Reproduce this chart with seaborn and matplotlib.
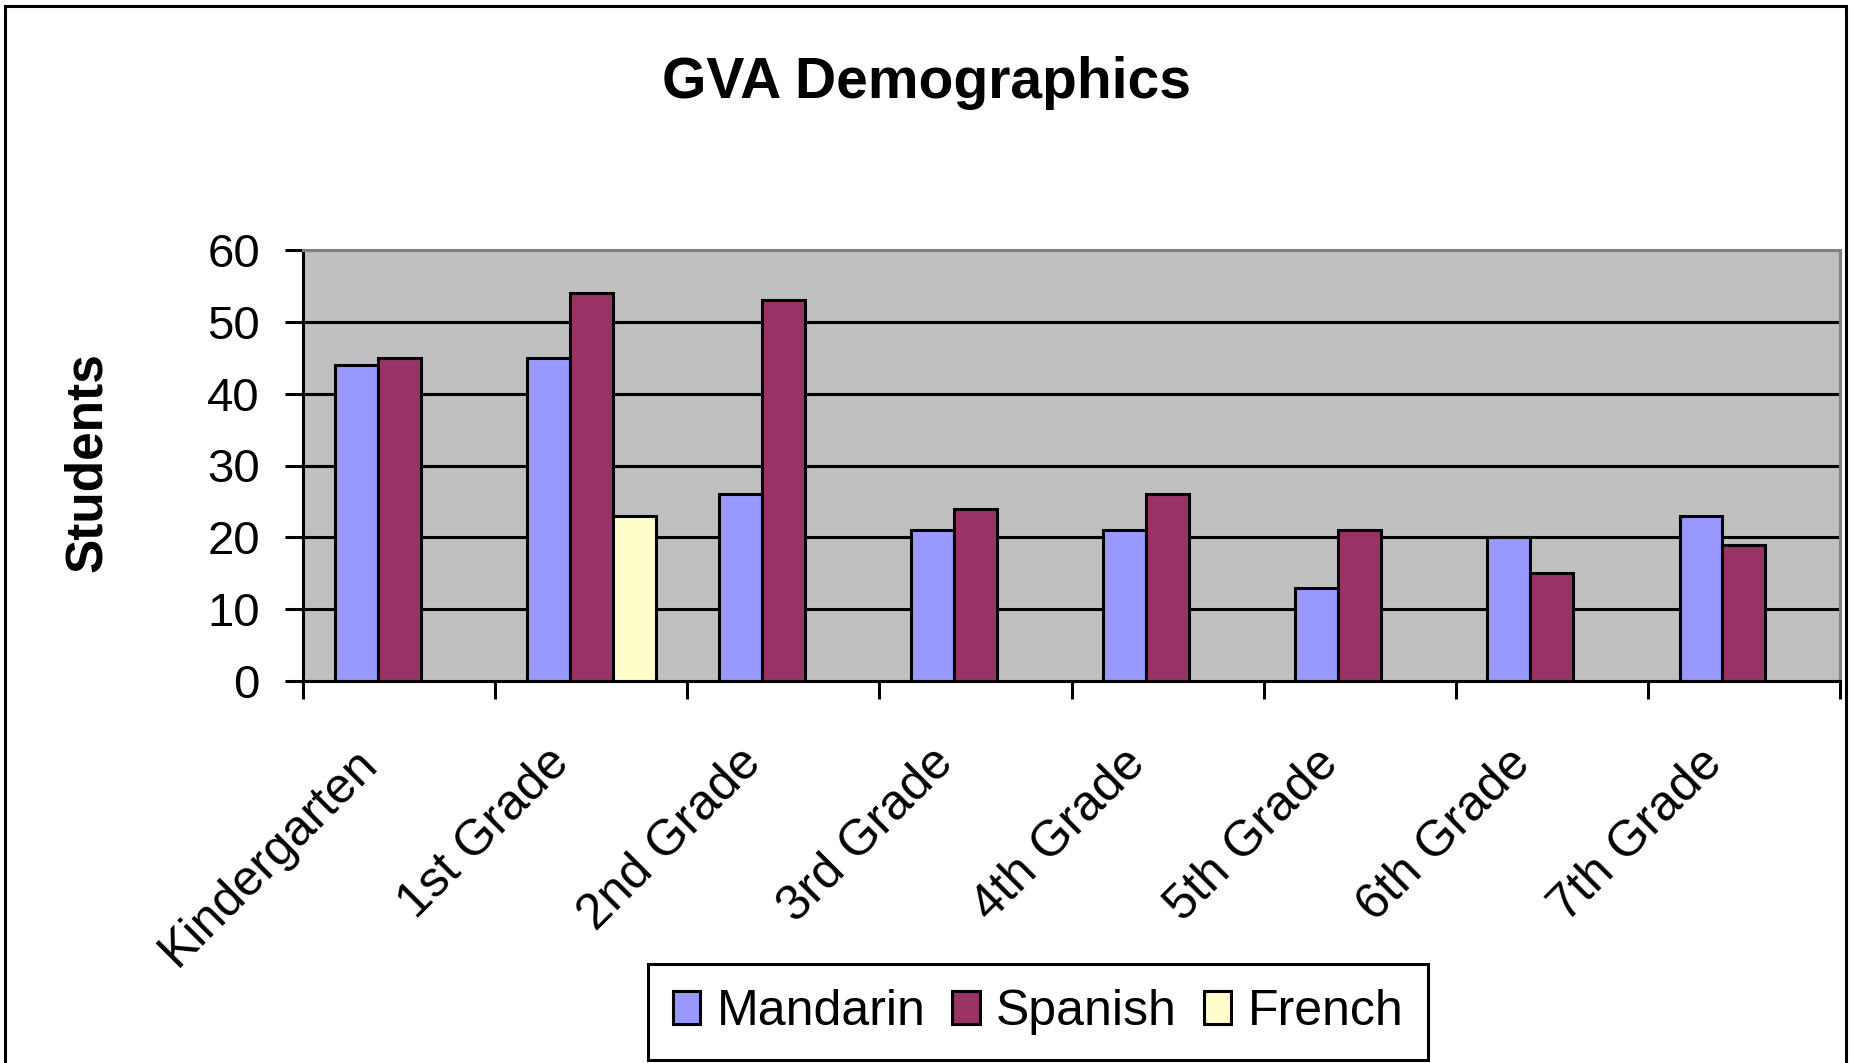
import numpy as np
import pandas as pd
import matplotlib
matplotlib.use("Agg")
import matplotlib.pyplot as plt
import matplotlib.patches as mpatches
import matplotlib.transforms as mtransforms
from matplotlib.ticker import FixedLocator
import seaborn as sns

grades = ["Kindergarten", "1st Grade", "2nd Grade", "3rd Grade",
          "4th Grade", "5th Grade", "6th Grade", "7th Grade"]
mandarin = [44, 45, 26, 21, 21, 13, 20, 23]
spanish = [45, 54, 53, 24, 26, 21, 15, 19]
french = [None, 23, None, None, None, None, None, None]
languages = ["Mandarin", "Spanish", "French"]
colors = ["#9999FF", "#993366", "#FFFFCC"]

rows = []
for lang, vals in zip(languages, [mandarin, spanish, french]):
    for g, v in zip(grades, vals):
        if v is not None:
            rows.append({"grade": g, "students": v, "language": lang})
df = pd.DataFrame(rows)

sns.set_style("white")
plt.rcParams["font.family"] = ["Liberation Sans", "DejaVu Sans"]
plt.rcParams["text.color"] = "black"
plt.rcParams["axes.labelcolor"] = "black"
plt.rcParams["xtick.color"] = "black"
plt.rcParams["ytick.color"] = "black"

LW = 2.2
fig, ax = plt.subplots(figsize=(18.53, 10.63), dpi=100)
fig.subplots_adjust(left=303 / 1853, right=1840 / 1853,
                    top=1 - 250 / 1063, bottom=1 - 681 / 1063)

sns.barplot(data=df, x="grade", y="students", hue="language",
            order=grades, hue_order=languages, palette=colors,
            width=0.67, saturation=1, edgecolor="black", linewidth=LW,
            errorbar=None, ax=ax)

ax.set_facecolor("#C0C0C0")
ax.set_ylim(0, 60)
ax.set_xlim(-0.5, 7.5)
ax.set_yticks(range(0, 61, 10))
ax.yaxis.grid(True, color="black", linewidth=LW)
ax.set_axisbelow(True)

for side in ["left", "bottom"]:
    ax.spines[side].set_color("black")
    ax.spines[side].set_linewidth(LW)
for side in ["top", "right"]:
    ax.spines[side].set_color("#808080")
    ax.spines[side].set_linewidth(LW)

ax.tick_params(axis="y", direction="out", length=13, width=LW, pad=18,
               labelsize=34, left=True, colors="black")
ax.xaxis.set_minor_locator(FixedLocator(np.arange(-0.5, 8, 1)))
ax.tick_params(axis="x", which="minor", direction="out", length=13,
               width=LW, bottom=True)
ax.tick_params(axis="x", which="major", length=0, pad=54, labelsize=36)
shift = mtransforms.ScaledTranslation(-0.29, 0, fig.dpi_scale_trans)
for lbl in ax.get_xticklabels():
    lbl.set_rotation(45)
    lbl.set_ha("right")
    lbl.set_va("center")
    lbl.set_rotation_mode("anchor")
    lbl.set_transform(lbl.get_transform() + shift)

ax.set_xlabel("")
ax.set_ylabel("Students", fontsize=37, fontweight="bold", va="center")
ax.yaxis.set_label_coords(-0.1405, 0.507)

fig.suptitle("GVA Demographics", fontsize=41, fontweight="bold",
             x=0.5, y=1 - 83 / 1063, va="center")

ax.get_legend().remove()
handles = [mpatches.Patch(facecolor=c, edgecolor="black", linewidth=LW)
           for c in colors]
leg = fig.legend(handles, languages, loc="center",
                 bbox_to_anchor=(1038 / 1853, 1 - 1012 / 1063), ncol=3,
                 fontsize=36, frameon=True, fancybox=False, framealpha=1,
                 edgecolor="black", handlelength=0.55, handleheight=0.66,
                 handletextpad=0.33, columnspacing=0.53, borderpad=0.5)
leg.get_frame().set_linewidth(LW)

# outer chart border
fig.patches.append(mpatches.Rectangle(
    (5 / 1853, -0.02), (1846 - 5) / 1853, 1.02 - 6 / 1063,
    transform=fig.transFigure, fill=False, edgecolor="black",
    linewidth=LW, zorder=10))

fig.savefig("out.png", dpi=100)
